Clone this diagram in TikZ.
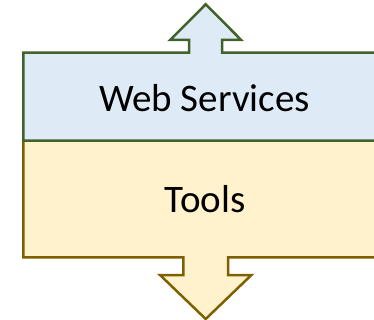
\documentclass[tikz,border=0pt]{standalone}
\usepackage{fontspec}
\setmainfont{Carlito}
\definecolor{wsfill}{RGB}{222,235,247}
\definecolor{wsline}{RGB}{65,98,43}
\definecolor{tlfill}{RGB}{255,242,204}
\definecolor{tlline}{RGB}{127,96,0}
\tikzset{
  wsshape/.style={fill=wsfill,draw=wsline,line width=2.5pt,line join=miter},
  tlshape/.style={fill=tlfill,draw=tlline,line width=2.5pt,line join=miter},
  lbl/.style={font=\fontsize{39}{44}\selectfont,text=black,anchor=base,inner sep=0pt}
}
\begin{document}
\begin{tikzpicture}[x=1pt,y=-1pt]
\useasboundingbox (0,0) rectangle (374,320);
\clip (0,0) rectangle (374,320);
% Tools (bottom, with down arrow)
\path[tlshape] (23.3,140.7) -- (23.3,257.3) -- (183.3,257.3) -- (183.3,275) -- (160,275)
  -- (205.7,319) -- (251.4,275) -- (228.1,275) -- (228.1,257.3) -- (392,257.3)
  -- (392,140.7) -- cycle;
% Web Services (top, with up arrow)
\path[wsshape] (23.3,140.7) -- (23.3,52.7) -- (189.2,52.7) -- (189.2,40) -- (170.2,40)
  -- (205.7,4.3) -- (241.2,40) -- (222.2,40) -- (222.2,52.7) -- (392,52.7)
  -- (392,140.7) -- cycle;
\node[lbl] (ws) at (204.5,111.7) {Web Services};
\node[lbl] (tools) at (205,212.3) {Tools};
\end{tikzpicture}
\end{document}
